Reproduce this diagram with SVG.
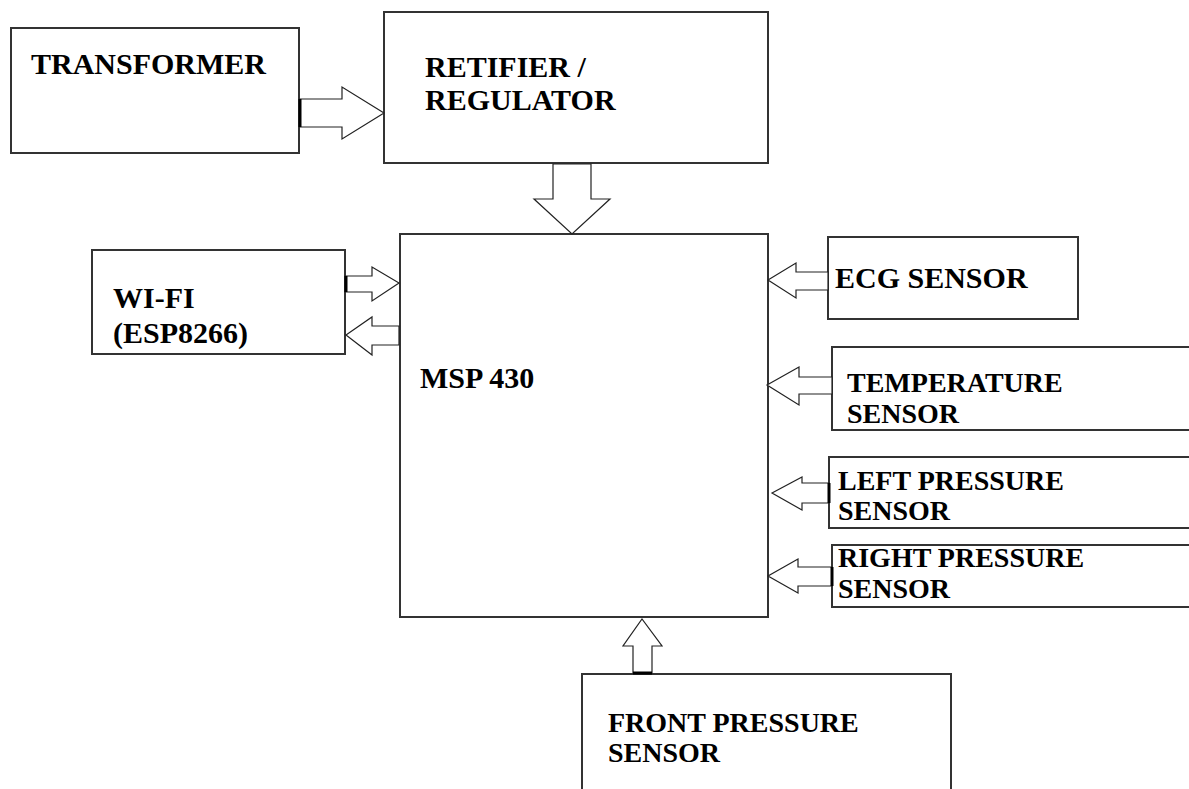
<svg xmlns="http://www.w3.org/2000/svg" width="1189" height="789" viewBox="0 0 1189 789">
<style>
.box{fill:#fff;stroke:#333;stroke-width:2}
.arr{fill:#fff;stroke:#222;stroke-width:1.2;stroke-linejoin:miter}
.t{font-family:"Liberation Serif","Times New Roman",serif;font-weight:bold;fill:#000}
.l{font-size:30px}
.s{font-size:28px}
</style>
<rect width="1189" height="789" fill="#fff"/>
<g id="transformer"><rect class="box" x="11" y="28" width="288" height="125"/><text class="t l" x="31" y="74">TRANSFORMER</text></g>
<g id="rectifier"><rect class="box" x="384" y="12" width="384" height="151"/><text class="t l" x="425" y="77">RETIFIER /</text><text class="t l" x="425" y="110">REGULATOR</text></g>
<g id="msp430"><rect class="box" x="400" y="234" width="368" height="383"/><text class="t l" x="420" y="388">MSP 430</text></g>
<g id="wifi"><rect class="box" x="92" y="250" width="253" height="104"/><text class="t l" x="113" y="308">WI-FI</text><text class="t l" x="113" y="343">(ESP8266)</text></g>
<g id="ecg"><rect class="box" x="828" y="237" width="250" height="82"/><text class="t l" x="835" y="288">ECG SENSOR</text></g>
<g id="temperature"><rect class="box" x="832" y="347" width="400" height="83"/><text class="t s" x="847" y="392">TEMPERATURE</text><text class="t s" x="847" y="423">SENSOR</text></g>
<g id="left-pressure"><rect class="box" x="829" y="457" width="400" height="71"/><text class="t s" x="838" y="490">LEFT PRESSURE</text><text class="t s" x="838" y="520">SENSOR</text></g>
<g id="right-pressure"><rect class="box" x="832" y="545" width="400" height="62"/><text class="t s" x="838" y="567">RIGHT PRESSURE</text><text class="t s" x="838" y="598">SENSOR</text></g>
<g id="front-pressure"><rect class="box" x="582" y="674" width="369" height="200"/><text class="t s" x="608" y="732">FRONT PRESSURE</text><text class="t s" x="608" y="762">SENSOR</text></g>
<g id="connectors">
<polygon class="arr" points="300,99 342,99 342,87 384,113 342,139 342,127 300,127"/>
<line x1="300" y1="99" x2="300" y2="127" stroke="#000" stroke-width="3"/>
<polygon class="arr" points="553,164 591,164 591,199 610,199 572,234 534,199 553,199"/>
<polygon class="arr" points="345,276 372,276 372,267 399,283 372,301 372,292 345,292"/>
<line x1="346" y1="276" x2="346" y2="292" stroke="#000" stroke-width="3"/>
<polygon class="arr" points="399,326 372,326 372,317 346,335 372,355 372,345 399,345"/>
<polygon class="arr" points="828,272 796,272 796,263 768,280 796,298 796,290 828,290"/>
<polygon class="arr" points="832,377 799,377 799,367 767,385 799,405 799,394 832,394"/>
<polygon class="arr" points="829,483 802,483 802,477 772,493 802,510 802,503 829,503"/>
<line x1="829" y1="483" x2="829" y2="503" stroke="#000" stroke-width="3"/>
<polygon class="arr" points="832,567 798,567 798,559 768,576 798,593 798,586 832,586"/>
<line x1="832" y1="567" x2="832" y2="586" stroke="#000" stroke-width="3"/>
<polygon class="arr" points="633,673 633,646 623,646 642,619 662,646 652,646 652,673"/>
<line x1="633" y1="673" x2="652" y2="673" stroke="#000" stroke-width="3"/>
</g>
</svg>
